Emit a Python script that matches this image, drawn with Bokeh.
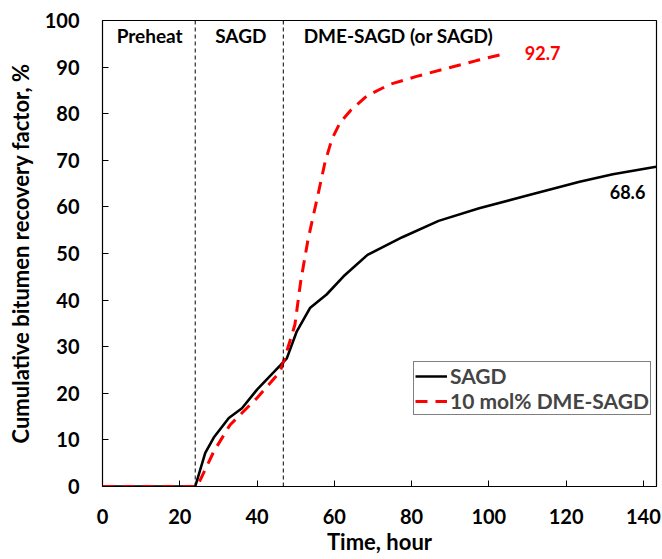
from bokeh.plotting import figure
from bokeh.models import ColumnDataSource, Span, Legend, LegendItem, FixedTicker, Range1d
from bokeh.core.properties import value
from bokeh.embed import file_html
from bokeh.resources import INLINE

# Cumulative bitumen recovery factor (%) versus time (hour)
t_sagd = [0, 24, 26.6, 28.8, 32.7, 36.1, 40, 46, 47.7, 50.3, 53.7, 58, 62.4,
          68.6, 77.6, 87, 97.5, 109.7, 123.5, 132.1, 143.3]
rf_sagd = [0, 0, 7.2, 10.5, 14.7, 16.8, 20.8, 26.0, 27.5, 33.3, 38.3, 41.2, 45.1,
           49.7, 53.5, 57.0, 59.7, 62.4, 65.4, 67.0, 68.6]

t_dme = [0, 24.5, 28.8, 33, 40, 46, 47.7, 49.8, 51.3, 53.2, 55.9, 57.6, 59.4,
         61.5, 64.1, 68.4, 74.4, 81.3, 89, 96.8, 103.3]
rf_dme = [0, 0, 7.5, 13.2, 19.0, 24.7, 29.0, 34.7, 44.0, 53.0, 63.1, 69.6, 74.6,
          78.1, 80.6, 83.8, 86.3, 88.0, 89.7, 91.4, 92.7]

# Stage boundaries (hour) and stage names
stage_bounds = [24, 46.8]
stage_names = ["Preheat", "SAGD", "DME-SAGD (or SAGD)"]
stage_x = [12.2, 35.8, 76.6]
stage_y = [96.7, 96.7, 96.7]

x_ticks = [0, 20, 40, 60, 80, 100, 120, 140]
y_ticks = [0, 10, 20, 30, 40, 50, 60, 70, 80, 90, 100]

FONT = "Lato"

p = figure(width=662, height=559, output_backend="svg", toolbar_location=None,
           x_range=Range1d(0, 143.4), y_range=Range1d(0, 100),
           min_border_left=102, min_border_right=6, min_border_top=20,
           min_border_bottom=73)
p.grid.visible = False
p.outline_line_color = "black"
p.outline_line_width = 1.2
p.background_fill_color = "white"
p.border_fill_color = "white"

for ax, ticks in ((p.xaxis[0], x_ticks), (p.yaxis[0], y_ticks)):
    ax.ticker = FixedTicker(ticks=ticks)
    ax.major_tick_in = 6
    ax.major_tick_out = 0
    ax.minor_tick_in = 0
    ax.minor_tick_out = 0
    ax.axis_line_color = "black"
    ax.major_tick_line_color = "black"
    ax.major_label_text_font = FONT
    ax.major_label_text_font_style = "bold"
    ax.major_label_text_font_size = "20px"
    ax.major_label_text_color = "black"
    ax.axis_label_text_font = FONT
    ax.axis_label_text_font_style = "bold"
    ax.axis_label_text_font_size = "22px"
    ax.axis_label_text_color = "black"

p.xaxis.axis_label = "Time, hour"
p.yaxis.axis_label = "Cumulative bitumen recovery factor, %"
p.xaxis.major_label_standoff = 22
p.xaxis.axis_label_standoff = 1
p.yaxis.major_label_standoff = 23
p.yaxis.axis_label_standoff = 8

for b in stage_bounds:
    p.add_layout(Span(location=b, dimension="height", line_color="black",
                      line_width=1, line_dash="4 3"))

src_sagd = ColumnDataSource(dict(t=t_sagd, rf=rf_sagd))
src_dme = ColumnDataSource(dict(t=t_dme, rf=rf_dme))

r_sagd = p.line("t", "rf", source=src_sagd, line_color="black", line_width=2.6)
r_dme = p.line("t", "rf", source=src_dme, line_color="#ff0000", line_width=3,
               line_dash="12 8")

p.text(x=stage_x, y=stage_y, text=stage_names, text_font=value(FONT),
       text_font_style="bold", text_font_size="19px", text_align="center",
       text_baseline="middle", text_color="black")

# End-point values
p.text(x=[109.3], y=[93.1], text=[f"{rf_dme[-1]}"], text_font=value(FONT),
       text_font_style="bold", text_font_size="18px", text_align="left",
       text_baseline="middle", text_color="#ff0000")
p.text(x=[135.9], y=[63.2], text=[f"{rf_sagd[-1]}"], text_font=value(FONT),
       text_font_style="bold", text_font_size="18px", text_align="center",
       text_baseline="middle", text_color="black")

legend = Legend(items=[LegendItem(label="SAGD", renderers=[r_sagd]),
                       LegendItem(label="10 mol% DME-SAGD", renderers=[r_dme])],
                location=(311, 71))
legend.label_text_font = FONT
legend.label_text_font_style = "bold"
legend.label_text_font_size = "21px"
legend.label_text_line_height = 1.0
legend.glyph_width = 32
legend.glyph_height = 18
legend.label_height = 18
legend.label_standoff = 3
legend.padding = 1
legend.spacing = 0
legend.margin = 0
legend.border_line_color = "black"
legend.border_line_width = 1.5
legend.background_fill_alpha = 1
p.add_layout(legend)

open("out.html", "w").write(file_html(p, INLINE))
